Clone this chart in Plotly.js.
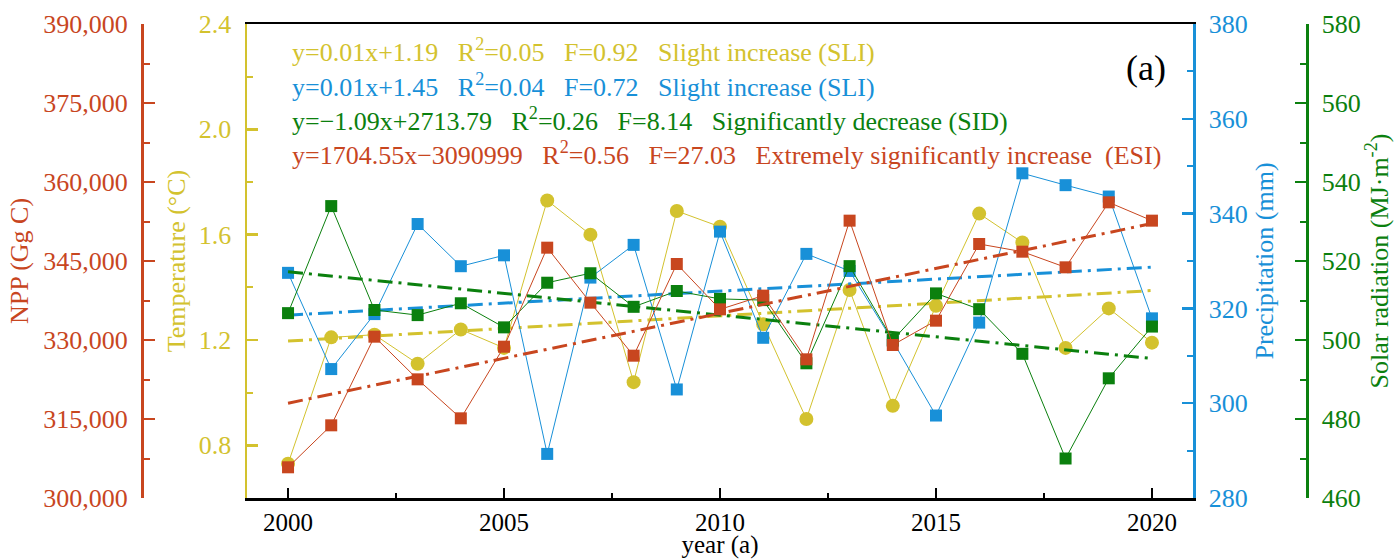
<!DOCTYPE html>
<html>
<head>
<meta charset="utf-8">
<script src="https://cdn.plot.ly/plotly-3.0.1.min.js"></script>
<style>html,body{margin:0;padding:0;background:#fff;}#chart{width:1397px;height:559px;}</style>
</head>
<body>
<div id="chart"></div>
<script>
// ---- data ----
const years = [2000, 2001, 2002, 2003, 2004, 2005, 2006, 2007, 2008, 2009, 2010,
               2011, 2012, 2013, 2014, 2015, 2016, 2017, 2018, 2019, 2020];
const npp = [305830, 313800, 330630, 322530, 315130, 328730, 347530, 337090, 327020, 344430, 335820,
             338420, 326330, 352660, 329050, 333670, 348230, 346770, 343800, 356140, 352660];
const temperature = [0.73, 1.21, 1.22, 1.11, 1.24, 1.17, 1.73, 1.60, 1.04, 1.69, 1.63,
                     1.26, 0.90, 1.39, 0.95, 1.33, 1.68, 1.57, 1.17, 1.32, 1.19];
const precipitation = [327.5, 307.2, 318.8, 337.8, 328.9, 331.2, 289.3, 326.5, 333.4, 302.9, 336.2,
                       313.8, 331.5, 327.9, 313.1, 297.4, 317.0, 348.5, 346.0, 343.6, 317.9];
const solar = [506.8, 533.9, 507.6, 506.3, 509.3, 503.2, 514.5, 516.9, 508.4, 512.4, 510.4,
               510.1, 494.1, 518.7, 500.0, 511.8, 507.8, 496.5, 470.0, 490.3, 503.4];

const fitLines = [
  "y=0.01x+1.19\u00a0\u00a0\u00a0R<sup>2</sup>=0.05\u00a0\u00a0\u00a0F=0.92\u00a0\u00a0\u00a0Slight increase (SLI)",
  "y=0.01x+1.45\u00a0\u00a0\u00a0R<sup>2</sup>=0.04\u00a0\u00a0\u00a0F=0.72\u00a0\u00a0\u00a0Slight increase (SLI)",
  "y=\u22121.09x+2713.79\u00a0\u00a0\u00a0R<sup>2</sup>=0.26\u00a0\u00a0\u00a0F=8.14\u00a0\u00a0\u00a0Significantly decrease (SID)",
  "y=1704.55x\u22123090999\u00a0\u00a0\u00a0R<sup>2</sup>=0.56\u00a0\u00a0\u00a0F=27.03\u00a0\u00a0\u00a0Extremely significantly increase\u00a0\u00a0(ESI)"
];
const panelLabel = "(a)";
const axisTitles = {
  x: "year (a)",
  npp: "NPP (Gg C)",
  temp: "Temperature (\u00b0C)",
  prec: "Precipitation (mm)",
  solar: "Solar radiation (MJ\u00b7m<sup>-2</sup>)"
};

// ---- styling ----
const RED = '#C8461F', YEL = '#D3C22E', BLU = '#1890D8', GRN = '#0B800E';
const FONT = 'Liberation Serif, Times New Roman, serif';
const W = 1397, H = 559;
const MT = 24, MB = 61;               // plot area: y from 24 to 498 px
const PH = H - MT - MB;
const py2paper = py => (H - MB - py) / PH;

function fit(xs, ys) {
  const n = xs.length;
  const mx = xs.reduce((a, b) => a + b, 0) / n;
  const my = ys.reduce((a, b) => a + b, 0) / n;
  let sxy = 0, sxx = 0;
  for (let i = 0; i < n; i++) { sxy += (xs[i] - mx) * (ys[i] - my); sxx += (xs[i] - mx) ** 2; }
  const b = sxy / sxx, a = my - b * mx;
  const x0 = xs[0], x1 = xs[n - 1];
  return { x: [x0, x1], y: [a + b * x0, a + b * x1] };
}

const DASH = '15px,6px,3px,6px';

function series(y, axis, color, symbol, size) {
  return { x: years, y: y, yaxis: axis, type: 'scatter', mode: 'lines+markers',
    line: { color: color, width: 1 }, marker: { color: color, symbol: symbol, size: size },
    hoverinfo: 'x+y' };
}
function trend(y, axis, color) {
  const f = fit(years, y);
  return { x: f.x, y: f.y, yaxis: axis, type: 'scatter', mode: 'lines',
    line: { color: color, width: 3, dash: DASH }, hoverinfo: 'skip' };
}

const data = [
  trend(temperature, 'y', YEL),
  series(temperature, 'y', YEL, 'circle', 14),
  trend(precipitation, 'y2', BLU),
  series(precipitation, 'y2', BLU, 'square', 12),
  trend(solar, 'y3', GRN),
  series(solar, 'y3', GRN, 'square', 12),
  trend(npp, 'y4', RED),
  series(npp, 'y4', RED, 'square', 12)
];

function yax(color, extra) {
  return Object.assign({
    domain: [0, 1], showgrid: false, zeroline: false,
    showline: true, linecolor: color, linewidth: 2.5,
    ticks: 'inside', ticklen: 11, tickwidth: 2.5, tickcolor: color,
    ticklabelstandoff: 8,
    tickfont: { family: FONT, size: 26, color: color },
    minor: { ticks: 'inside', ticklen: 6, tickwidth: 2, tickcolor: color }
  }, extra);
}

const layout = {
  width: W, height: H,
  margin: { l: 0, r: 0, t: MT, b: MB, pad: 0 },
  paper_bgcolor: '#fff', plot_bgcolor: 'rgba(0,0,0,0)',
  showlegend: false,
  font: { family: FONT, size: 26, color: '#000' },
  xaxis: {
    domain: [247 / W, 1193 / W], range: [1999.05, 2020.95],
    tick0: 2000, dtick: 5, showgrid: false, zeroline: false,
    showline: true, linecolor: '#000', linewidth: 2.5, mirror: true,
    ticks: 'inside', ticklen: 10, tickwidth: 2.5, tickcolor: '#000',
    minor: { ticks: 'inside', ticklen: 5, tickwidth: 2, tickcolor: '#000', dtick: 2.5 },
    tickfont: { family: FONT, size: 25, color: '#000' },
    title: { text: axisTitles.x, font: { family: FONT, size: 25, color: '#000' }, standoff: 4 }
  },
  yaxis: yax(YEL, {
    range: [0.6, 2.4], tick0: 0.8, dtick: 0.4, tickformat: '.1f', anchor: 'x', side: 'left',
    minor: { ticks: 'inside', ticklen: 6, tickwidth: 2, tickcolor: YEL, dtick: 0.2 },
    title: { text: axisTitles.temp, font: { family: FONT, size: 26, color: YEL }, standoff: 6 }
  }),
  yaxis2: yax(BLU, {
    range: [280, 380], tick0: 280, dtick: 20, overlaying: 'y', anchor: 'x', side: 'right',
    minor: { ticks: 'inside', ticklen: 6, tickwidth: 2, tickcolor: BLU, dtick: 10 },
    title: { text: axisTitles.prec, font: { family: FONT, size: 26, color: BLU }, standoff: 8 }
  }),
  yaxis3: yax(GRN, {
    range: [460, 580], tick0: 460, dtick: 20, overlaying: 'y', anchor: 'free', position: 1307 / W, side: 'right',
    minor: { ticks: 'inside', ticklen: 6, tickwidth: 2, tickcolor: GRN, dtick: 10 },
    title: { text: axisTitles.solar, font: { family: FONT, size: 26, color: GRN }, standoff: 6 }
  }),
  yaxis4: yax(RED, {
    range: [300000, 390000], tick0: 300000, dtick: 15000, tickformat: ',d', overlaying: 'y', anchor: 'free', position: 142 / W, side: 'left',
    minor: { ticks: 'inside', ticklen: 6, tickwidth: 2, tickcolor: RED, dtick: 7500 },
    title: { text: axisTitles.npp, font: { family: FONT, size: 26, color: RED }, standoff: 6 }
  }),
  annotations: [
    { text: fitLines[0], color: YEL, py: 51 },
    { text: fitLines[1], color: BLU, py: 86 },
    { text: fitLines[2], color: GRN, py: 119 },
    { text: fitLines[3], color: RED, py: 153 }
  ].map(a => ({
    xref: 'paper', yref: 'paper', x: 290 / W, y: py2paper(a.py),
    xanchor: 'left', yanchor: 'middle', showarrow: false, text: a.text,
    font: { family: FONT, size: 26, color: a.color }
  })).concat([{
    xref: 'paper', yref: 'paper', x: 1146 / W, y: py2paper(68),
    xanchor: 'center', yanchor: 'middle', showarrow: false, text: panelLabel,
    font: { family: FONT, size: 36, color: '#000' }
  }])
};

Plotly.newPlot('chart', data, layout, { displayModeBar: false, staticPlot: true });
</script>
</body>
</html>
